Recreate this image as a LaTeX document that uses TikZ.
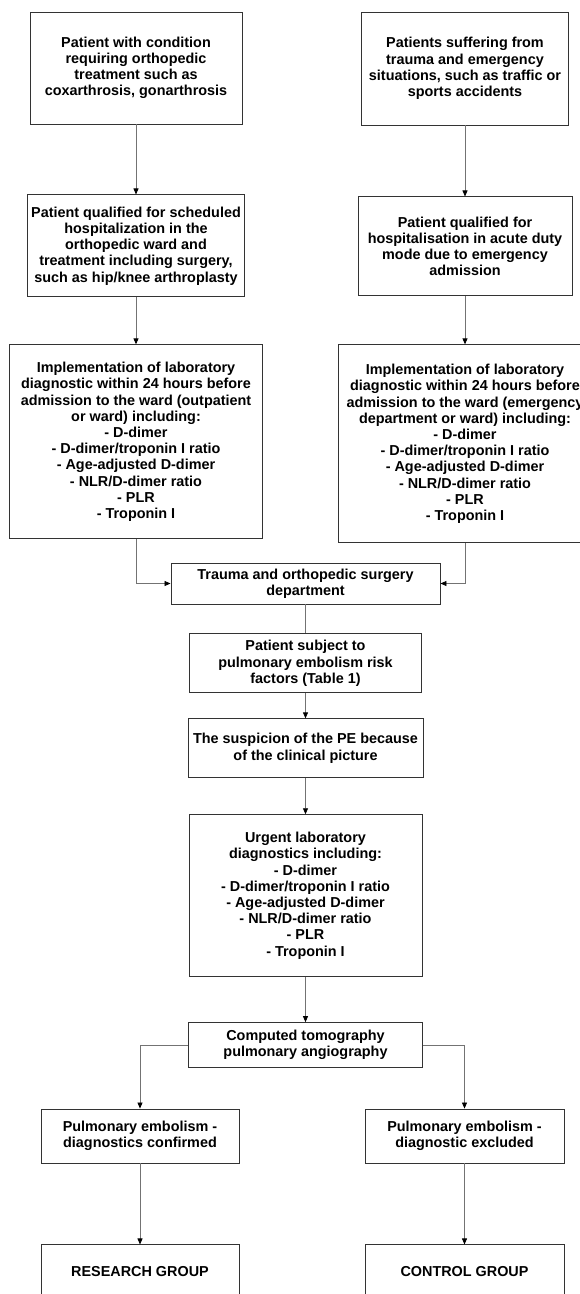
\documentclass[tikz,border=0pt]{standalone}
\usepackage{fontspec}
\setmainfont{Liberation Sans}
\usetikzlibrary{arrows.meta, positioning}
\usepackage{xcolor}

\begin{document}
\begin{tikzpicture}[
    x=1pt, y=-1pt,
    every node/.style={
        draw=black!80,
        line width=0.9pt,
        rectangle,
        align=center,
        inner sep=2pt,
        font=\fontsize{14.4pt}{16.2pt}\selectfont\bfseries
    },
    arrow/.style={-{Triangle[width=5pt,length=6pt,color=black]}, draw=black!55, line width=0.8pt},
    link/.style={draw=black!55, line width=0.8pt}
]

\useasboundingbox (0,0) rectangle (579,1294);

% left branch
\node (planned) [minimum width=212pt, minimum height=112pt] at (136,68) {Patient with condition\\requiring orthopedic\\treatment such as\\coxarthrosis, gonarthrosis};
\node (scheduled) [below=70pt of planned, minimum width=217pt, minimum height=102pt] {Patient qualified for scheduled\\hospitalization in the\\orthopedic ward and\\treatment including surgery,\\such as hip/knee arthroplasty};
\node (labplanned) [below=47pt of scheduled, minimum width=253pt, minimum height=194pt] {Implementation of laboratory\\diagnostic within 24 hours before\\admission to the ward (outpatient\\or ward) including:\\- D-dimer\\- D-dimer/troponin I ratio\\- Age-adjusted D-dimer\\- NLR/D-dimer ratio\\- PLR\\- Troponin I};

% right branch
\node (injured) [minimum width=207pt, minimum height=113pt] at (465,68.5) {Patients suffering from\\trauma and emergency\\situations, such as traffic or\\sports accidents};
\node (acute) [below=71pt of injured, minimum width=214pt, minimum height=99pt] {Patient qualified for\\hospitalisation in acute duty\\mode due to emergency\\admission};
\node (labacute) [below=48pt of acute, minimum width=254pt, minimum height=198pt] {Implementation of laboratory\\diagnostic within 24 hours before\\admission to the ward (emergency\\department or ward) including:\\- D-dimer\\- D-dimer/troponin I ratio\\- Age-adjusted D-dimer\\- NLR/D-dimer ratio\\- PLR\\- Troponin I};

% common path
\node (ward) [minimum width=269pt, minimum height=41pt] at (305.5,583.5) {Trauma and orthopedic surgery\\department};
\node (risk) [below=29pt of ward, minimum width=232pt, minimum height=59pt] {Patient subject to\\pulmonary embolism risk\\factors (Table 1)};
\node (suspicion) [below=25pt of risk, minimum width=235pt, minimum height=59pt] {The suspicion of the PE because\\of the clinical picture};
\node (urgent) [below=36pt of suspicion, minimum width=233pt, minimum height=162pt] {Urgent laboratory\\diagnostics including:\\- D-dimer\\- D-dimer/troponin I ratio\\- Age-adjusted D-dimer\\- NLR/D-dimer ratio\\- PLR\\- Troponin I};
\node (ctpa) [below=45pt of urgent, minimum width=234pt, minimum height=45pt] {Computed tomography\\pulmonary angiography};

% outcome
\node (confirmed) [minimum width=198pt, minimum height=54pt] at (140,1136) {Pulmonary embolism -\\diagnostics confirmed};
\node (excluded) [minimum width=199pt, minimum height=54pt] at (464.5,1136) {Pulmonary embolism -\\diagnostic excluded};
\node (research) [below=81pt of confirmed, minimum width=198pt, minimum height=54pt] {RESEARCH GROUP};
\node (control) [below=81pt of excluded, minimum width=199pt, minimum height=54pt] {CONTROL GROUP};

\draw[arrow] (planned) -- (scheduled);
\draw[arrow] (scheduled) -- (labplanned);
\draw[arrow] (injured) -- (acute);
\draw[arrow] (acute) -- (labacute);
\draw[arrow] (labplanned.south) |- (ward.west);
\draw[arrow] (labacute.south) |- (ward.east);
\draw[link] (ward) -- (risk);
\draw[arrow] (risk) -- (suspicion);
\draw[arrow] (suspicion) -- (urgent);
\draw[arrow] (urgent) -- (ctpa);
\draw[arrow] (ctpa.west) -| (confirmed.north);
\draw[arrow] (ctpa.east) -| (excluded.north);
\draw[arrow] (confirmed) -- (research);
\draw[arrow] (excluded) -- (control);

\end{tikzpicture}
\end{document}
